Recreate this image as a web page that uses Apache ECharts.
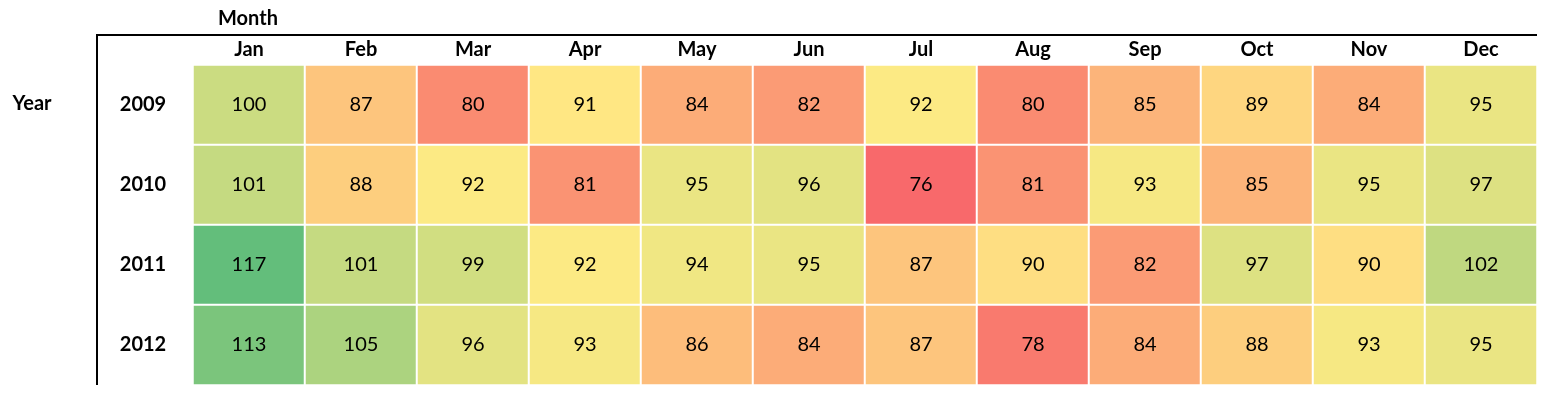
<!DOCTYPE html>
<html>
<head>
    <meta charset="utf-8">
    <title>Heatmap</title>
    <script src="https://cdn.jsdelivr.net/npm/echarts@6/dist/echarts.min.js"></script>
</head>
<body style="margin:0;background:#fff;">
<div id="main" style="width: 1548px;height:398px;"></div>
<script type="text/javascript">
    // 数据
    var months = ['Jan', 'Feb', 'Mar', 'Apr', 'May', 'Jun', 'Jul', 'Aug', 'Sep', 'Oct', 'Nov', 'Dec'];
    var years = ['2009', '2010', '2011', '2012'];
    var v2009 = [100, 87, 80, 91, 84, 82, 92, 80, 85, 89, 84, 95];
    var v2010 = [101, 88, 92, 81, 95, 96, 76, 81, 93, 85, 95, 97];
    var v2011 = [117, 101, 99, 92, 94, 95, 87, 90, 82, 97, 90, 102];
    var v2012 = [113, 105, 96, 93, 86, 84, 87, 78, 84, 88, 93, 95];
    var rows = [v2009, v2010, v2011, v2012];

    var data = [];
    var all = [];
    for (var r = 0; r < rows.length; r++) {
        for (var c = 0; c < months.length; c++) {
            data.push([c, r, rows[r][c]]);
            all.push(rows[r][c]);
        }
    }

    // Excel 红-黄-绿 三色刻度 (中点 = 中位数)
    var sorted = all.slice().sort(function (a, b) { return a - b; });
    var vmin = sorted[0], vmax = sorted[sorted.length - 1];
    var mid = (sorted[sorted.length / 2 - 1] + sorted[sorted.length / 2]) / 2;
    var cLow = [248, 105, 107], cMid = [255, 235, 132], cHigh = [99, 190, 123];
    function mix(a, b, t) {
        return 'rgb(' + a.map(function (x, i) { return Math.round(x + (b[i] - x) * t); }).join(',') + ')';
    }
    var stops = [];
    var n = 83;
    for (var i = 0; i < n; i++) {
        var v = vmin + (vmax - vmin) * i / (n - 1);
        stops.push(v <= mid ? mix(cLow, cMid, (v - vmin) / (mid - vmin)) : mix(cMid, cHigh, (v - mid) / (vmax - mid)));
    }

    var font = 'Lato';
    var boldText = { color: '#000', fontFamily: font, fontWeight: 'bold', fontSize: 20 };
    var myChart = echarts.init(document.getElementById('main'));
    var option = {
        backgroundColor: '#fff',
        animation: false,
        title: [
            { text: 'Month', left: 248, top: 19, textAlign: 'center', textVerticalAlign: 'middle', padding: 0, textStyle: boldText },
            { text: 'Year', left: 32, top: 104, textAlign: 'center', textVerticalAlign: 'middle', padding: 0, textStyle: boldText }
        ],
        grid: { left: 193, right: 11, top: 65, bottom: 13 },
        xAxis: {
            type: 'category',
            position: 'top',
            data: months,
            axisLine: { show: false },
            axisTick: { show: false },
            splitLine: { show: false },
            axisLabel: { color: '#000', fontFamily: font, fontWeight: 'bold', fontSize: 20, margin: 5 }
        },
        yAxis: {
            type: 'category',
            inverse: true,
            data: years,
            axisLine: { show: false },
            axisTick: { show: false },
            splitLine: { show: false },
            axisLabel: { color: '#000', fontFamily: font, fontWeight: 'bold', fontSize: 20, margin: 50, align: 'center' }
        },
        visualMap: {
            show: false,
            min: vmin,
            max: vmax,
            calculable: false,
            inRange: { color: stops }
        },
        graphic: [
            { type: 'line', shape: { x1: 97, y1: 35, x2: 1537, y2: 35 }, style: { stroke: '#000', lineWidth: 2 } },
            { type: 'line', shape: { x1: 97, y1: 34, x2: 97, y2: 385 }, style: { stroke: '#000', lineWidth: 2 } }
        ],
        series: [{
            type: 'heatmap',
            data: data,
            label: { show: true, color: '#000', fontFamily: font, fontSize: 20 },
            itemStyle: { borderColor: '#fff', borderWidth: 2 },
            emphasis: { disabled: true }
        }]
    };
    myChart.setOption(option);
</script>
</body>
</html>
